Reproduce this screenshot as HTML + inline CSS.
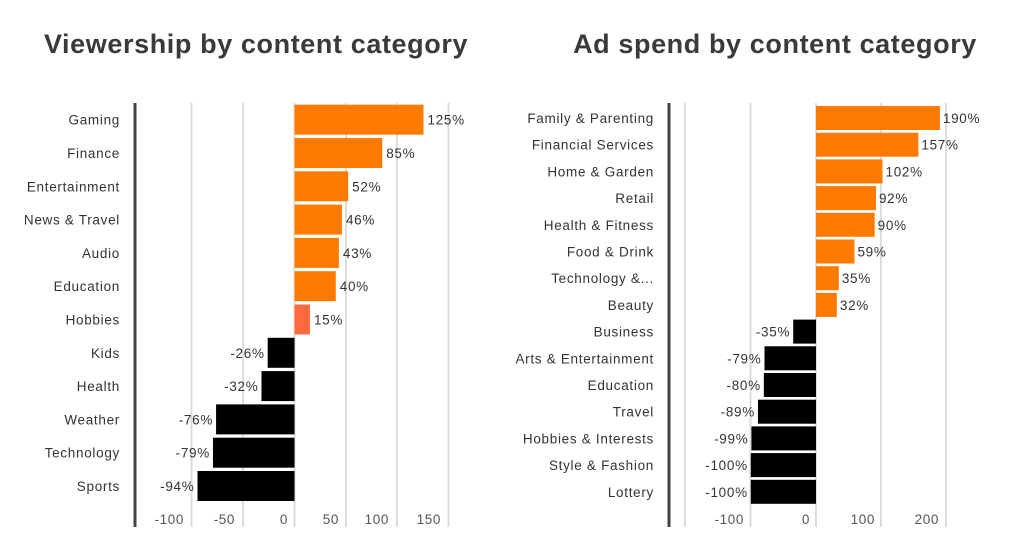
<!DOCTYPE html>
<html><head><meta charset="utf-8"><style>
html,body{margin:0;padding:0;background:#fff;}
svg{display:block;font-family:"Liberation Sans",sans-serif;}
</style></head><body>
<svg width="1024" height="558" viewBox="0 0 1024 558" xmlns="http://www.w3.org/2000/svg">
<text x="256" y="53" text-anchor="middle" font-size="27" font-weight="bold" letter-spacing="0.6" fill="#3a3a3a">Viewership by content category</text>
<text x="775" y="53" text-anchor="middle" font-size="27" font-weight="bold" letter-spacing="0.6" fill="#3a3a3a">Ad spend by content category</text>
<g stroke="#dcdcdc" stroke-width="2">
<line x1="191.5" y1="103" x2="191.5" y2="527"/><line x1="243" y1="103" x2="243" y2="527"/><line x1="294.5" y1="103" x2="294.5" y2="527"/><line x1="346" y1="103" x2="346" y2="527"/><line x1="397" y1="103" x2="397" y2="527"/><line x1="448.5" y1="103" x2="448.5" y2="527"/>
<line x1="685" y1="103" x2="685" y2="527"/><line x1="750.5" y1="103" x2="750.5" y2="527"/><line x1="816" y1="103" x2="816" y2="527"/><line x1="881" y1="103" x2="881" y2="527"/><line x1="946" y1="103" x2="946" y2="527"/>
</g>
<line x1="135" y1="103" x2="135" y2="527" stroke="#444" stroke-width="3"/>
<line x1="669" y1="103" x2="669" y2="527" stroke="#444" stroke-width="3"/>
<g font-size="13.5" fill="#555" letter-spacing="0.6">
<g text-anchor="end">
<text x="184" y="524">-100</text><text x="235" y="524">-50</text><text x="288" y="524">0</text><text x="339" y="524">50</text><text x="389" y="524">100</text><text x="441" y="524">150</text>
<text x="744" y="524">-100</text><text x="810" y="524">0</text><text x="875" y="524">100</text><text x="939" y="524">200</text>
</g>
</g>
<g id="L" font-size="13.5" fill="#333" letter-spacing="0.7"></g>
<g id="R" font-size="13.5" fill="#333" letter-spacing="0.7"></g>
<script>
var ns="http://www.w3.org/2000/svg";
function el(p,t,a,txt){var e=document.createElementNS(ns,t);for(var k in a)e.setAttribute(k,a[k]);if(txt)e.textContent=txt;p.appendChild(e);}
var L=[["Gaming",125],["Finance",85],["Entertainment",52],["News & Travel",46],["Audio",43],["Education",40],["Hobbies",15],["Kids",-26],["Health",-32],["Weather",-76],["Technology",-79],["Sports",-94]];
var g=document.getElementById("L");
L.forEach(function(d,i){var top=104.7+i*33.3,h=30,z=294.5,w=d[1]*1.032;var c=d[1]<0?"#000":(d[0]=="Hobbies"?"#ff6a3d":"#ff7a00");
var x=w<0?z+w:z;el(g,"rect",{x:x,y:top,width:Math.abs(w),height:h,fill:c});
var cy=top+h/2+5;el(g,"text",{x:120,y:cy,"text-anchor":"end"},d[0]);
if(d[1]>0)el(g,"text",{x:z+w+4,y:cy},d[1]+"%");else el(g,"text",{x:z+w-3,y:cy,"text-anchor":"end"},d[1]+"%");});
var R=[["Family & Parenting",190],["Financial Services",157],["Home & Garden",102],["Retail",92],["Health & Fitness",90],["Food & Drink",59],["Technology &...",35],["Beauty",32],["Business",-35],["Arts & Entertainment",-79],["Education",-80],["Travel",-89],["Hobbies & Interests",-99],["Style & Fashion",-100],["Lottery",-100]];
var r=document.getElementById("R");
R.forEach(function(d,i){var top=106+i*26.7,h=24,z=816,w=d[1]*0.652;var c=d[1]<0?"#000":"#ff7a00";
var x=w<0?z+w:z;el(r,"rect",{x:x,y:top,width:Math.abs(w),height:h,fill:c});
var cy=top+h/2+5;el(r,"text",{x:654,y:cy,"text-anchor":"end"},d[0]);
if(d[1]>0)el(r,"text",{x:z+w+3,y:cy},d[1]+"%");else el(r,"text",{x:z+w-3,y:cy,"text-anchor":"end"},d[1]+"%");});
</script>
</svg>
</body></html>
